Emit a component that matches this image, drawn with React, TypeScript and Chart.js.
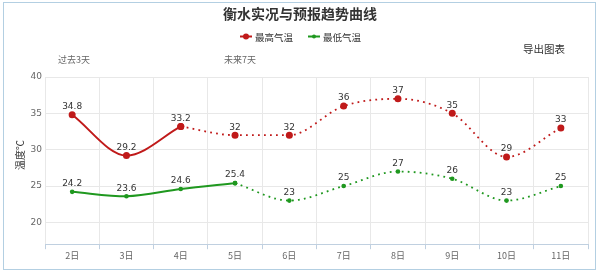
import React, { useEffect, useRef } from "react";
import { Chart, registerables } from "chart.js";

Chart.register(...registerables);

const categories = ["2日", "3日", "4日", "5日", "6日", "7日", "8日", "9日", "10日", "11日"];
const highTemps = [34.8, 29.2, 33.2, 32, 32, 36, 37, 35, 29, 33];
const lowTemps = [24.2, 23.6, 24.6, 25.4, 23, 25, 27, 26, 23, 25];
const highObservedCount = 3;
const lowObservedCount = 4;
const yTickValues = [20, 25, 30, 35, 40];

const RED = "#c01a1a";
const GREEN = "#1f981f";
const CJK = '"Noto Sans CJK SC", "Noto Sans", sans-serif';
const NUM = '"DejaVu Sans", sans-serif';

function split(values: number[], observed: number) {
  const past = values.map((v, i) => (i < observed ? v : null));
  const future = values.map((v, i) => (i >= observed - 1 ? v : null));
  return { past, future };
}

const overlayPlugin = {
  id: "overlay",
  afterDatasetsDraw(chart: any) {
    const ctx = chart.ctx as CanvasRenderingContext2D;
    const x = chart.scales.x;
    const y = chart.scales.y;
    ctx.save();
    ctx.font = `9px ${NUM}`;
    ctx.fillStyle = "#333";
    ctx.textAlign = "center";
    ctx.textBaseline = "middle";
    highTemps.forEach((v, i) => {
      ctx.fillText(String(v), x.getPixelForValue(i), y.getPixelForValue(v) - 8);
    });
    lowTemps.forEach((v, i) => {
      ctx.fillText(String(v), x.getPixelForValue(i), y.getPixelForValue(v) - 8);
    });
    ctx.restore();
  },
  afterDraw(chart: any) {
    const ctx = chart.ctx as CanvasRenderingContext2D;
    ctx.save();
    ctx.fillStyle = "#333";
    ctx.font = `bold 14px ${CJK}`;
    ctx.textAlign = "center";
    ctx.textBaseline = "middle";
    ctx.fillText("衡水实况与预报趋势曲线", 300, 14);
    const items = [
      { color: RED, r: 3, x: 240, label: "最高气温" },
      { color: GREEN, r: 2, x: 308, label: "最低气温" },
    ];
    items.forEach((it) => {
      ctx.strokeStyle = it.color;
      ctx.lineWidth = 2;
      ctx.beginPath();
      ctx.moveTo(it.x, 36.5);
      ctx.lineTo(it.x + 12, 36.5);
      ctx.stroke();
      ctx.fillStyle = it.color;
      ctx.beginPath();
      ctx.arc(it.x + 6, 36.5, it.r, 0, Math.PI * 2);
      ctx.fill();
      ctx.fillStyle = "#333";
      ctx.font = `9.5px ${CJK}`;
      ctx.textAlign = "left";
      ctx.fillText(it.label, it.x + 15, 37);
    });
    ctx.font = `10.5px ${CJK}`;
    ctx.fillStyle = "#333";
    ctx.textAlign = "left";
    ctx.fillText("导出图表", 523, 49);
    ctx.font = `9px ${CJK}`;
    ctx.fillStyle = "#666";
    ctx.fillText("过去3天", 58, 60);
    ctx.fillText("未来7天", 224, 60);
    ctx.translate(20, 155);
    ctx.rotate(-Math.PI / 2);
    ctx.textAlign = "center";
    ctx.font = `10px ${CJK}`;
    ctx.fillStyle = "#333";
    ctx.fillText("温度℃", 0, 0);
    ctx.restore();
  },
};

export default function App() {
  const ref = useRef<HTMLCanvasElement | null>(null);
  useEffect(() => {
    if (!ref.current) return;
    const hi = split(highTemps, highObservedCount);
    const lo = split(lowTemps, lowObservedCount);
    const common = { cubicInterpolationMode: "monotone" as const, spanGaps: false, borderCapStyle: "butt" as const, pointBorderWidth: 0 };
    const dots = [1.8, 4.2];
    const chart = new Chart(ref.current, {
      type: "line",
      data: {
        labels: categories,
        datasets: [
          { ...common, label: "最高气温", data: hi.past, borderColor: RED, backgroundColor: RED, borderWidth: 2, pointRadius: 3.5, pointBackgroundColor: RED },
          { ...common, label: "最高气温预报", data: hi.future, borderColor: RED, backgroundColor: RED, borderWidth: 1.8, borderDash: dots, pointRadius: 3.5, pointBackgroundColor: RED },
          { ...common, label: "最低气温", data: lo.past, borderColor: GREEN, backgroundColor: GREEN, borderWidth: 2, pointRadius: 2.3, pointBackgroundColor: GREEN },
          { ...common, label: "最低气温预报", data: lo.future, borderColor: GREEN, backgroundColor: GREEN, borderWidth: 1.8, borderDash: dots, pointRadius: 2.3, pointBackgroundColor: GREEN },
        ],
      },
      options: {
        animation: false,
        responsive: false,
        devicePixelRatio: 1,
        layout: { padding: { left: 5, right: 12, top: 77, bottom: 11 } },
        plugins: { legend: { display: false }, title: { display: false }, tooltip: { enabled: false } },
        scales: {
          x: {
            offset: true,
            grid: { offset: true, color: "#e8e8e8", tickLength: 5, tickColor: "#c0d0e0" },
            border: { color: "#c0d0e0" },
            ticks: { color: "#666", font: { size: 9, family: CJK }, padding: 1, maxRotation: 0, autoSkip: false },
          },
          y: {
            min: 17,
            max: 40,
            afterBuildTicks: (s: any) => {
              s.ticks = yTickValues.map((v) => ({ value: v }));
            },
            afterFit: (s: any) => {
              s.width = 40;
            },
            grid: { color: "#e8e8e8", drawTicks: false },
            border: { display: false },
            ticks: { color: "#666", font: { size: 9, family: NUM }, padding: 3 },
          },
        },
      },
      plugins: [overlayPlugin],
    });
    return () => chart.destroy();
  }, []);
  return (
    <div style={{ position: "fixed", left: 0, top: 0, width: 600, height: 273, background: "#fff" }}>
      <div style={{ position: "absolute", left: 3, top: 2, width: 591, height: 266, border: "1px solid #b3cfe2", boxSizing: "content-box" }} />
      <canvas ref={ref} width={600} height={273} style={{ position: "absolute", left: 0, top: 0, width: 600, height: 273 }} />
    </div>
  );
}
